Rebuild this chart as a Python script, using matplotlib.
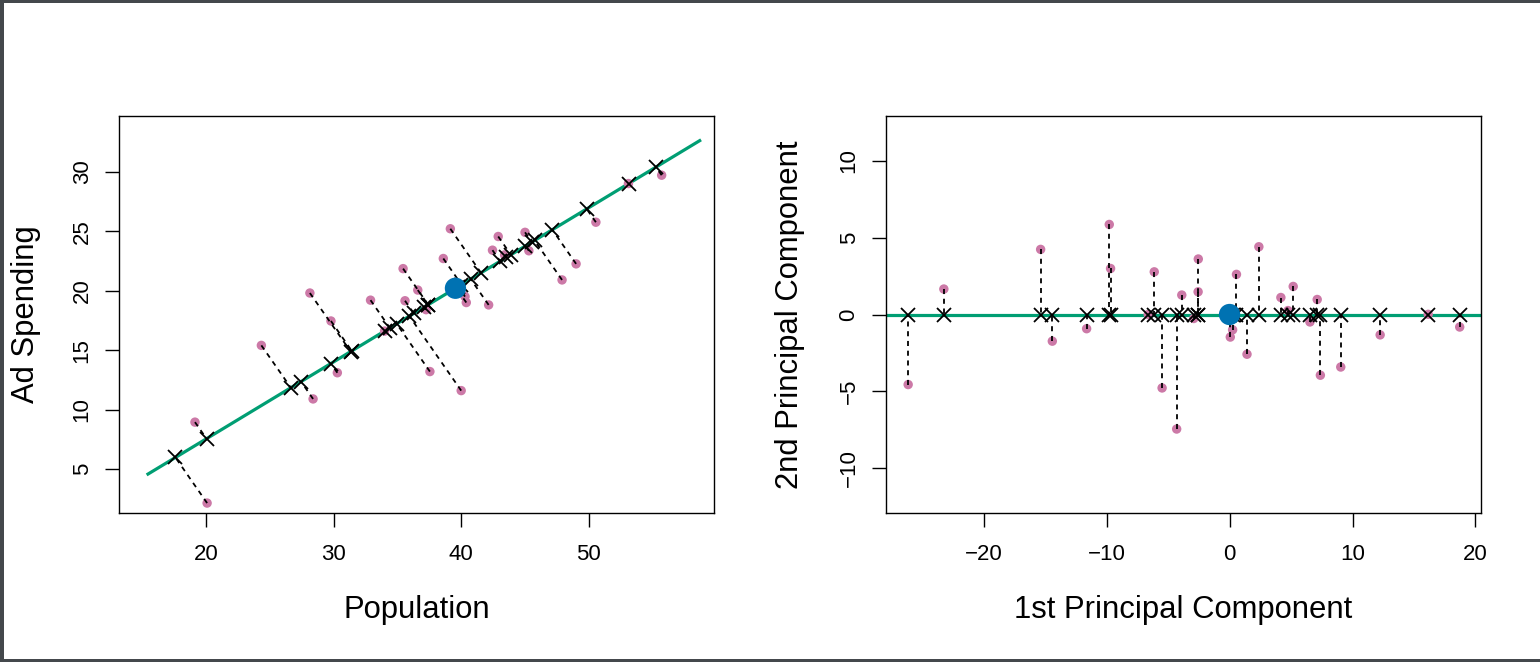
import numpy as np
import matplotlib.pyplot as plt
from matplotlib.patches import Rectangle

plt.rcParams['font.family'] = ['Liberation Sans', 'DejaVu Sans']

# Subset of the advertising data (left panel)
population = [20.1, 19.15, 24.35, 28.4, 30.3, 28.15, 29.8, 34.0, 32.9, 37.55,
              40.0, 35.6, 37.25, 35.45, 36.6, 40.4, 40.3, 38.6, 42.15, 39.15,
              42.45, 43.4, 42.9, 45.3, 45.0, 47.9, 49.0, 50.55, 53.1, 55.7]
ad_spending = [2.15, 8.95, 15.4, 10.9, 13.1, 19.8, 17.45, 16.6, 19.2, 13.2,
               11.6, 19.15, 18.4, 21.85, 20.05, 19.0, 19.5, 22.7, 18.8, 25.2,
               23.4, 23.0, 24.55, 23.35, 24.9, 20.9, 22.25, 25.75, 29.0, 29.7]

# Mean of the full data set and first principal component loadings
pop_mean, ad_mean = 39.55, 20.2
phi = [0.839, 0.544]
line_scores = [-28.7, 22.8]

pink = '#CC79A7'
green = '#009E73'
blue = '#0072B2'


# Principal component scores
pop = np.array(population)
ad = np.array(ad_spending)
z1 = phi[0] * (pop - pop_mean) + phi[1] * (ad - ad_mean)
z2 = -phi[1] * (pop - pop_mean) + phi[0] * (ad - ad_mean)

# Projections onto the first principal component line
pop_proj = pop_mean + z1 * phi[0]
ad_proj = ad_mean + z1 * phi[1]
line_pop = pop_mean + np.array(line_scores) * phi[0]
line_ad = ad_mean + np.array(line_scores) * phi[1]


fig = plt.figure(figsize=(15.4, 6.62), dpi=100)
W, H = 1540, 662
ax1 = fig.add_axes([119 / W, (H - 513.3) / H, 595 / W, 397.6 / H])
ax2 = fig.add_axes([886 / W, (H - 513.3) / H, 595 / W, 397.6 / H])

dash = (0, (2.8, 2.6))

# Left panel
ax1.plot(line_pop, line_ad, color=green, lw=2.3, zorder=2)
ax1.scatter(pop, ad, s=46, color=pink, edgecolors='none', zorder=3)
for i in range(len(pop)):
    ax1.plot([pop[i], pop_proj[i]], [ad[i], ad_proj[i]], color='black',
             lw=1.3, linestyle=dash, zorder=4)
ax1.plot(pop_proj, ad_proj, 'x', color='black', ms=9.5, mew=1.3, zorder=5)
ax1.scatter([pop_mean], [ad_mean], s=235, color=blue, edgecolors='none', zorder=6)

ax1.set_xlim(13.2, 59.8)
ax1.set_ylim(1.29, 34.7)
ax1.set_xticks([20, 30, 40, 50])
ax1.set_yticks([5, 10, 15, 20, 25, 30])
ax1.set_xlabel('Population', fontsize=22.3)
ax1.set_ylabel('Ad Spending', fontsize=22.3)
ax1.xaxis.set_label_coords(0.5, -0.243)
ax1.yaxis.set_label_coords(-0.156, 0.5)

# Right panel
ax2.axhline(0, color=green, lw=2.3, zorder=2)
ax2.scatter(z1, z2, s=46, color=pink, edgecolors='none', zorder=3)
for i in range(len(z1)):
    ax2.plot([z1[i], z1[i]], [z2[i], 0], color='black', lw=1.3,
             linestyle=dash, zorder=4)
ax2.plot(z1, np.zeros(len(z1)), 'x', color='black', ms=9.5, mew=1.3, zorder=5)
ax2.scatter([0], [0], s=235, color=blue, edgecolors='none', zorder=6)

ax2.set_xlim(-27.94, 20.45)
ax2.set_ylim(-12.95, 12.95)
ax2.set_xticks([-20, -10, 0, 10, 20])
ax2.set_yticks([-10, -5, 0, 5, 10])
ax2.set_xlabel('1st Principal Component', fontsize=22.3)
ax2.set_ylabel('2nd Principal Component', fontsize=22.3)
ax2.xaxis.set_label_coords(0.5, -0.243)
ax2.yaxis.set_label_coords(-0.161, 0.5)

for ax in (ax1, ax2):
    ax.tick_params(axis='both', direction='out', length=10, width=1.0,
                   labelsize=16, color='black')
    ax.tick_params(axis='x', pad=12)
    ax.tick_params(axis='y', pad=9, labelrotation=90)
    for lab in ax.get_yticklabels():
        lab.set_va('center')
    ax.xaxis.label.set_va('center')
    ax.yaxis.label.set_va('center')
    for sp in ax.spines.values():
        sp.set_linewidth(1.0)

# Screenshot frame
frame = '#44484c'
fig.add_artist(Rectangle((0, 1 - 2.5 / H), 1, 2.5 / H, transform=fig.transFigure,
                         color=frame, lw=0))
fig.add_artist(Rectangle((0, 0), 1, 3 / H, transform=fig.transFigure,
                         color=frame, lw=0))
fig.add_artist(Rectangle((0, 0), 4 / W, 1, transform=fig.transFigure,
                         color=frame, lw=0))

fig.savefig('out.png', dpi=100)
